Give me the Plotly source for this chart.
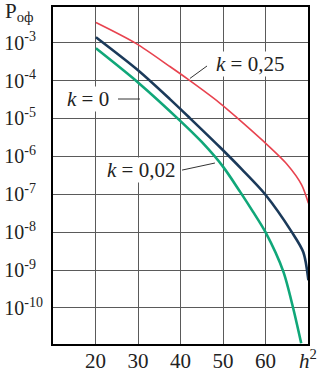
import plotly.graph_objects as go

# ---- data ----
x_k025 = [20.1, 29.5, 37.5, 41.8, 49.1, 53.2, 59.5, 65.0, 68.5, 70.1]
logp_k025 = [-2.47, -3.02, -3.63, -3.97, -4.58, -4.97, -5.60, -6.20, -6.75, -7.24]

x_k0 = [20.1, 30.0, 37.5, 42.2, 49.3, 54.5, 59.9, 66.2, 68.9, 70.1]
logp_k0 = [-2.86, -3.73, -4.49, -4.99, -5.76, -6.35, -7.00, -8.00, -8.53, -9.27]

x_k002 = [20.1, 30.0, 40.0, 45.0, 50.0, 54.0, 57.0, 60.0, 64.2, 66.5, 68.4]
logp_k002 = [-3.15, -4.05, -5.07, -5.62, -6.27, -6.93, -7.45, -8.00, -9.04, -10.0, -10.93]

x_ticks = [20, 30, 40, 50, 60, 70]
x_ticktext = ["20", "30", "40", "50", "60", "<i>h</i><sup>2</sup>"]
y_exps = [-3, -4, -5, -6, -7, -8, -9, -10]

labels = ["<i>k</i> = 0,25", "<i>k</i> = 0", "<i>k</i> = 0,02"]

FONT = "Liberation Serif"


def ylab(e):
    # pad single-digit exponents with a figure space so all labels start at the same x
    pad = "\u2007" if abs(e) < 10 else ""
    return "10<sup>%d%s</sup>" % (e, pad)


fig = go.Figure()
fig.add_trace(go.Scatter(x=x_k025, y=[10 ** v for v in logp_k025], mode="lines",
                         line=dict(color="#e8434f", width=1.6, shape="spline", smoothing=0.8),
                         showlegend=False, hoverinfo="skip"))
fig.add_trace(go.Scatter(x=x_k0, y=[10 ** v for v in logp_k0], mode="lines",
                         line=dict(color="#1b3a5a", width=2.6, shape="spline", smoothing=0.8),
                         showlegend=False, hoverinfo="skip"))
fig.add_trace(go.Scatter(x=x_k002, y=[10 ** v for v in logp_k002], mode="lines",
                         line=dict(color="#10a779", width=2.6, shape="spline", smoothing=0.8),
                         showlegend=False, hoverinfo="skip"))

fig.update_layout(
    width=327, height=376,
    margin=dict(l=53, r=19, t=7, b=32),
    paper_bgcolor="white", plot_bgcolor="white",
    font=dict(family=FONT, size=21, color="#222"),
    xaxis=dict(range=[10, 70], tickvals=x_ticks, ticktext=x_ticktext,
               showgrid=True, gridcolor="#5a5a5a", gridwidth=1.4,
               showline=True, mirror=True, linecolor="black", linewidth=2,
               zeroline=False, ticks="", ticklabelstandoff=-3, automargin=False,
               tickfont=dict(family=FONT, size=21, color="#222")),
    yaxis=dict(type="log", range=[-10.95, -2.06],
               tickvals=[10 ** e for e in y_exps],
               ticktext=[ylab(e) for e in y_exps],
               showgrid=True, gridcolor="#5a5a5a", gridwidth=1.4,
               showline=True, mirror=True, linecolor="black", linewidth=2,
               zeroline=False, ticks="", ticklabelstandoff=4, automargin=False,
               tickfont=dict(family=FONT, size=20, color="#222")),
)

# leader lines (paper coords)
lead = dict(type="line", xref="paper", yref="paper", line=dict(color="#333", width=1))
fig.add_shape(x0=0.537, y0=0.788, x1=0.604, y1=0.825, **lead)
fig.add_shape(x0=0.255, y0=0.727, x1=0.341, y1=0.727, **lead)
fig.add_shape(x0=0.506, y0=0.516, x1=0.635, y1=0.537, **lead)

ann = dict(xref="paper", yref="paper", showarrow=False, xanchor="center", yanchor="middle",
           font=dict(family=FONT, size=21, color="#222"), bgcolor="white", borderpad=0)
fig.add_annotation(x=0.773, y=0.831, text=labels[0], **ann)
fig.add_annotation(x=0.139, y=0.727, text=labels[1], **ann)
fig.add_annotation(x=0.345, y=0.516, text=labels[2], **ann)

fig.add_annotation(x=-0.195, y=0.985, xanchor="left", yanchor="middle", xref="paper", yref="paper",
                   text="P<sub>оф</sub>", showarrow=False,
                   font=dict(family=FONT, size=21, color="#222"))

fig.write_html("out.html", config={"displayModeBar": False},
               post_script="document.body.style.margin='0';document.body.style.overflow='hidden';")
